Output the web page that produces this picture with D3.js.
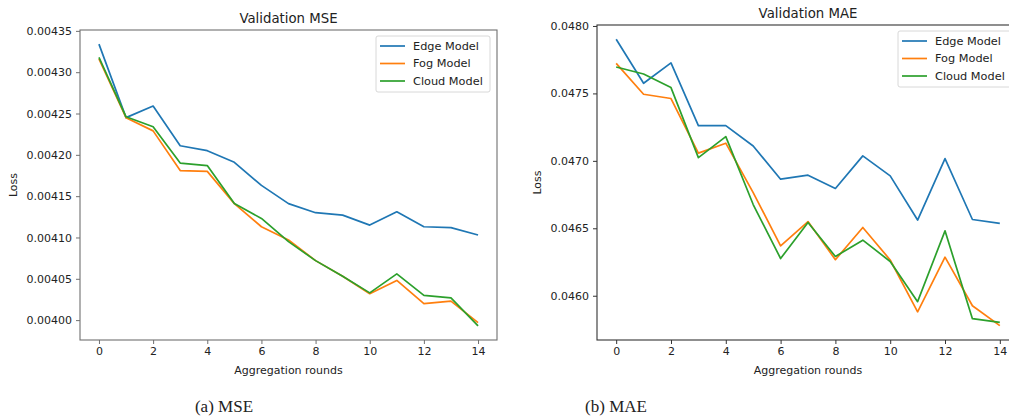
<!DOCTYPE html>
<html><head><meta charset="utf-8">
<script src="https://cdn.jsdelivr.net/npm/d3@7"></script>
<style>
html,body{margin:0;padding:0;background:#fff;overflow:hidden}
svg{display:block}
text{font-family:"DejaVu Sans",sans-serif;fill:#222}
</style></head><body>
<svg id="c" width="1009" height="419"></svg>
<script>
const rounds = [0,1,2,3,4,5,6,7,8,9,10,11,12,13,14];
const seriesNames = ["Edge Model","Fog Model","Cloud Model"];
const colors = ["#1f77b4","#ff7f0e","#2ca02c"];

const mseEdge  = [0.004334,0.004245,0.004259,0.004211,0.004205,0.004191,0.004163,0.004141,0.004130,0.004127,0.004115,0.004131,0.004113,0.004112,0.004103];
const mseFog   = [0.004316,0.004245,0.004229,0.004181,0.004180,0.004141,0.004113,0.004097,0.004072,0.004053,0.004032,0.004048,0.004020,0.004023,0.003997];
const mseCloud = [0.004318,0.004246,0.004234,0.004190,0.004187,0.004141,0.004123,0.004095,0.004072,0.004053,0.004033,0.004056,0.004030,0.004027,0.003993];

const maeEdge  = [0.047901,0.047575,0.047726,0.047261,0.047261,0.047110,0.046864,0.046894,0.046795,0.047037,0.046889,0.046561,0.047017,0.046565,0.046536];
const maeFog   = [0.047723,0.047494,0.047462,0.047057,0.047131,0.046765,0.046370,0.046550,0.046267,0.046506,0.046265,0.045881,0.046286,0.045926,0.045778];
const maeCloud = [0.047696,0.047644,0.047543,0.047024,0.047180,0.046676,0.046276,0.046543,0.046291,0.046412,0.046254,0.045956,0.046481,0.045830,0.045802];

const xTicks = [0,2,4,6,8,10,12,14];
const mseTicks = [0.00400,0.00405,0.00410,0.00415,0.00420,0.00425,0.00430,0.00435];
const maeTicks = [0.0460,0.0465,0.0470,0.0475,0.0480];

const titles = ["Validation MSE","Validation MAE"];
const captions = ["(a) MSE","(b) MAE"];
const xLabel = "Aggregation rounds";
const yLabel = "Loss";

const svg = d3.select("#c");

function panel(cfg){
  const g = svg.append("g");
  const all = cfg.series.flat();
  const [mn,mx] = d3.extent(all);
  const pad = (mx-mn)*0.05;
  const x = d3.scaleLinear().domain([-0.7,14.7]).range([cfg.l,cfg.r]);
  const y = d3.scaleLinear().domain([mn-pad,mx+pad]).range([cfg.b,cfg.t]);

  const line = d3.line().x((d,i)=>x(rounds[i])).y(d=>y(d));
  cfg.series.forEach((s,k)=>{
    g.append("path").datum(s).attr("d",line).attr("fill","none")
      .attr("stroke",colors[k]).attr("stroke-width",1.7).attr("stroke-linejoin","round");
  });

  const xa = d3.axisBottom(x).tickValues(xTicks).tickSize(4).tickPadding(3).tickFormat(d3.format("d"));
  const ya = d3.axisLeft(y).tickValues(cfg.yTicks).tickSize(4).tickPadding(4).tickFormat(d3.format(cfg.fmt));
  const gx = g.append("g").attr("transform",`translate(0,${cfg.b})`).call(xa);
  const gy = g.append("g").attr("transform",`translate(${cfg.l},0)`).call(ya);
  [gx,gy].forEach(a=>{
    a.select(".domain").remove();
    a.selectAll("line").attr("stroke",cfg.spine).attr("stroke-width",1);
    a.selectAll("text").attr("font-size",11).attr("fill","#222").style("font-family","DejaVu Sans");
  });
  g.append("rect").attr("x",cfg.l).attr("y",cfg.t).attr("width",cfg.r-cfg.l).attr("height",cfg.b-cfg.t)
    .attr("fill","none").attr("stroke",cfg.spine).attr("stroke-width",1.1);

  const cx = (cfg.l+cfg.r)/2;
  g.append("text").attr("x",cx).attr("y",cfg.t-7).attr("text-anchor","middle").attr("font-size",13.3).text(cfg.title);
  g.append("text").attr("x",cx).attr("y",cfg.b+34).attr("text-anchor","middle").attr("font-size",11).text(xLabel);
  g.append("text").attr("transform",`translate(${cfg.ylx},${(cfg.t+cfg.b)/2}) rotate(-90)`)
    .attr("text-anchor","middle").attr("dy","0.35em").attr("font-size",11).text(yLabel);

  const lg = g.append("g").attr("transform",`translate(${cfg.legX},${cfg.legY})`);
  lg.append("rect").attr("x",0).attr("y",0).attr("width",114).attr("height",56).attr("rx",2)
    .attr("fill","#fff").attr("fill-opacity",0.8).attr("stroke","#d8d8d8").attr("stroke-width",1);
  seriesNames.forEach((n,k)=>{
    const yy = 10+k*17.5;
    lg.append("line").attr("x1",4).attr("x2",29).attr("y1",yy).attr("y2",yy)
      .attr("stroke",colors[k]).attr("stroke-width",1.7);
    lg.append("text").attr("x",37).attr("y",yy).attr("dy","0.35em").attr("font-size",11.3).text(n);
  });

  svg.append("text").attr("x",cfg.capX).attr("y",412).attr("text-anchor","middle")
    .style("font-family","'Liberation Serif','Times New Roman',serif").attr("font-size",17).text(cfg.caption);
}

panel({series:[mseEdge,mseFog,mseCloud], yTicks:mseTicks, fmt:".5f", l:80, r:497, t:30, b:340,
  title:titles[0], caption:captions[0], ylx:13, legX:376, legY:36, capX:224, spine:"#707070"});
panel({series:[maeEdge,maeFog,maeCloud], yTicks:maeTicks, fmt:".4f", l:597, r:1019, t:25, b:340,
  title:titles[1], caption:captions[1], ylx:537, legX:898, legY:31, capX:616, spine:"#333"});
</script>
</body></html>
